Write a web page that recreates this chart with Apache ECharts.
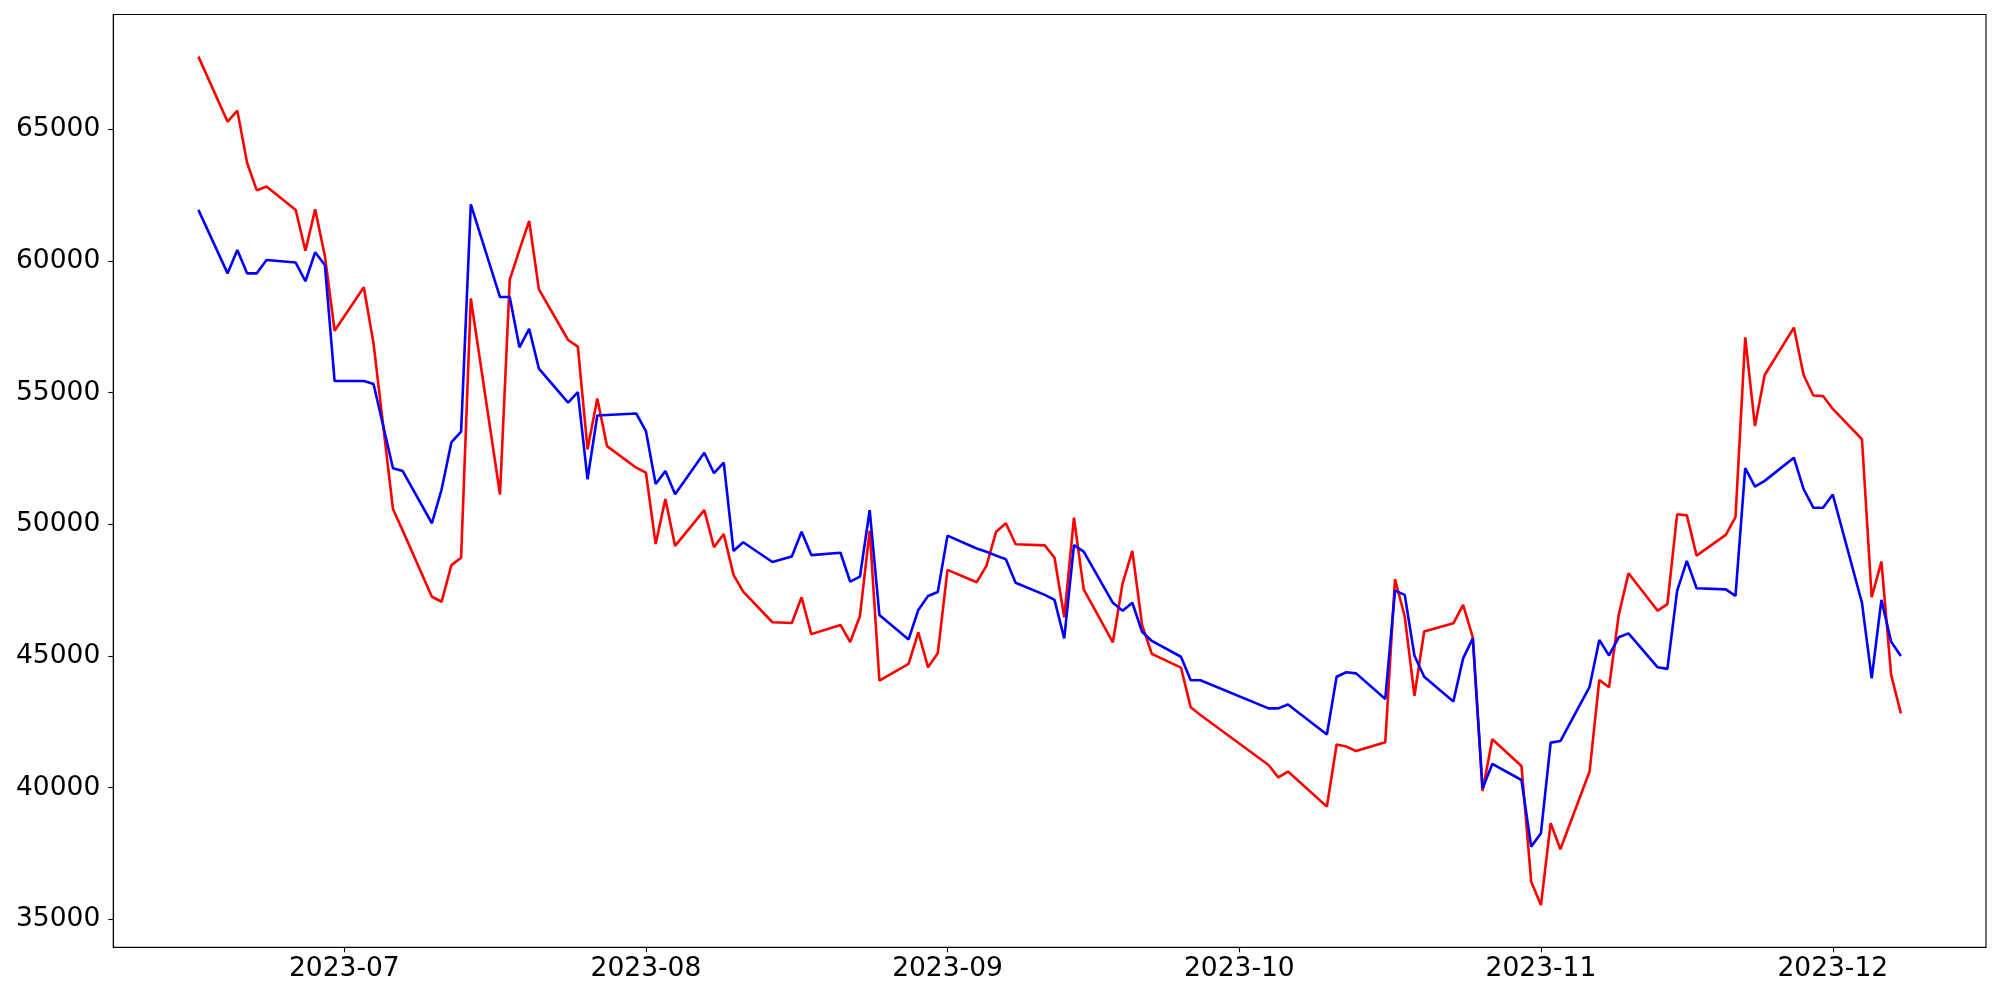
<!DOCTYPE html>
<html>
<head>
<meta charset="utf-8">
<script src="https://cdn.jsdelivr.net/npm/echarts@6/dist/echarts.min.js"></script>
<style>
html,body{margin:0;padding:0;background:#fff;}
#chart{width:2000px;height:1000px;}
</style>
</head>
<body>
<div id="chart"></div>
<script>
// Trading dates
const dates = [
 '2023-06-16','2023-06-19','2023-06-20','2023-06-21','2023-06-22','2023-06-23','2023-06-26','2023-06-27','2023-06-28','2023-06-29','2023-06-30',
 '2023-07-03','2023-07-04','2023-07-06','2023-07-07','2023-07-10','2023-07-11','2023-07-12','2023-07-13','2023-07-14','2023-07-17','2023-07-18','2023-07-19','2023-07-20','2023-07-21','2023-07-24','2023-07-25','2023-07-26','2023-07-27','2023-07-28','2023-07-31',
 '2023-08-01','2023-08-02','2023-08-03','2023-08-04','2023-08-07','2023-08-08','2023-08-09','2023-08-10','2023-08-11','2023-08-14','2023-08-16','2023-08-17','2023-08-18','2023-08-21','2023-08-22','2023-08-23','2023-08-24','2023-08-25','2023-08-28','2023-08-29','2023-08-30','2023-08-31',
 '2023-09-01','2023-09-04','2023-09-05','2023-09-06','2023-09-07','2023-09-08','2023-09-11','2023-09-12','2023-09-13','2023-09-14','2023-09-15','2023-09-18','2023-09-19','2023-09-20','2023-09-21','2023-09-22','2023-09-25','2023-09-26','2023-09-27',
 '2023-10-04','2023-10-05','2023-10-06','2023-10-10','2023-10-11','2023-10-12','2023-10-13','2023-10-16','2023-10-17','2023-10-18','2023-10-19','2023-10-20','2023-10-23','2023-10-24','2023-10-25','2023-10-26','2023-10-27','2023-10-30','2023-10-31',
 '2023-11-01','2023-11-02','2023-11-03','2023-11-06','2023-11-07','2023-11-08','2023-11-09','2023-11-10','2023-11-13','2023-11-14','2023-11-15','2023-11-16','2023-11-17','2023-11-20','2023-11-21','2023-11-22','2023-11-23','2023-11-24','2023-11-27','2023-11-28','2023-11-29','2023-11-30',
 '2023-12-01','2023-12-04','2023-12-05','2023-12-06','2023-12-07','2023-12-08'
];

// Red series
const redValues = [
 67760,65290,65710,63730,62680,62830,61940,60390,61960,60190,57350,
 59000,56870,50580,49760,47250,47060,48450,48730,58580,51130,59280,60420,61520,58920,57000,56750,52850,54780,52970,52150,
 51960,49250,50960,49180,50540,49130,49630,48080,47440,46280,46250,47230,45830,46180,45530,46520,49760,44060,44700,45900,44570,45100,
 48270,47800,48420,49720,50040,49240,49200,48730,46470,50250,47530,45520,47760,48990,46180,45080,44560,43050,42760,
 40860,40390,40610,39280,41640,41560,41390,41720,47920,46500,43490,45930,46240,46940,45710,39870,41840,40820,36430,
 35540,38650,37660,40610,44090,43810,46560,48140,46720,46970,50380,50340,48810,49600,50270,57100,53730,55670,57470,55670,54890,54870,
 54380,53230,47230,48580,44280,42820
];

// Blue series
const blueValues = [
 61940,59530,60420,59530,59530,60040,59940,59230,60330,59850,55440,
 55440,55330,52130,52020,50040,51330,53110,53520,62150,58630,58630,56720,57420,55910,54620,55020,51710,54130,54150,54210,
 53540,51530,52020,51140,52720,51940,52340,48990,49320,48570,48780,49720,48830,48920,47820,48010,50540,46560,45630,46750,47280,47430,
 49570,49080,48960,48810,48670,47780,47320,47130,45670,49210,48960,47020,46720,47020,45920,45570,44970,44080,44080,
 43010,43010,43160,42020,44210,44380,44340,43370,47480,47320,45010,44210,43270,44910,45670,39970,40900,40290,37760,
 38270,41710,41770,43830,45610,45020,45710,45860,44570,44510,47470,48610,47570,47530,47280,52130,51430,51650,52530,51340,50630,50630,
 51130,47020,44150,47130,45540,45000
];

// Tick labels
const xTickDates = ['2023-07-01','2023-08-01','2023-09-01','2023-10-01','2023-11-01','2023-12-01'];
const yTickValues = [35000,40000,45000,50000,55000,60000,65000];

function ts(s){ const p = s.split('-').map(Number); return Date.UTC(p[0], p[1]-1, p[2]); }
const DAY = 86400000;
const xs = dates.map(ts);
const xMin = xs[0] - 8.75*DAY;
const xMax = xs[xs.length-1] + 8.75*DAY;
const xTicks = xTickDates.map(ts);

const chart = echarts.init(document.getElementById('chart'), null, {renderer:'canvas'});
const font = 'DejaVu Sans';
chart.setOption({
  animation:false,
  backgroundColor:'#ffffff',
  grid:{left:113.3, right:14, top:14.5, bottom:52.7, show:true, borderColor:'#000', borderWidth:1.1, backgroundColor:'transparent'},
  xAxis:{
    type:'value', min:xMin, max:xMax,
    axisLine:{show:true, lineStyle:{color:'#000', width:1.1}},
    axisTick:{show:true, length:5, lineStyle:{color:'#000', width:1.1}, customValues:xTicks},
    axisLabel:{show:true, customValues:xTicks, color:'#000', fontFamily:font, fontSize:26.5, margin:8,
      showMinLabel:true, showMaxLabel:true,
      formatter:function(v){ const d=new Date(v); const m=d.getUTCMonth()+1; return d.getUTCFullYear()+'-'+(m<10?'0'+m:m); }},
    splitLine:{show:false}
  },
  yAxis:{
    type:'value', min:33937, max:69360,
    axisLine:{show:true, lineStyle:{color:'#000', width:1.1}},
    axisTick:{show:true, length:5, lineStyle:{color:'#000', width:1.1}, customValues:yTickValues},
    axisLabel:{show:true, customValues:yTickValues, color:'#000', fontFamily:font, fontSize:26.5, margin:13,
      formatter:function(v){ return String(v); }},
    splitLine:{show:false}
  },
  series:[
    {type:'line', data:xs.map((x,i)=>[x, redValues[i]]), showSymbol:false, symbol:'none',
     lineStyle:{color:'#ff0000', width:2.6}, itemStyle:{color:'#ff0000'}, z:2},
    {type:'line', data:xs.map((x,i)=>[x, blueValues[i]]), showSymbol:false, symbol:'none',
     lineStyle:{color:'#0000ff', width:2.6}, itemStyle:{color:'#0000ff'}, z:3}
  ]
});
</script>
</body>
</html>
